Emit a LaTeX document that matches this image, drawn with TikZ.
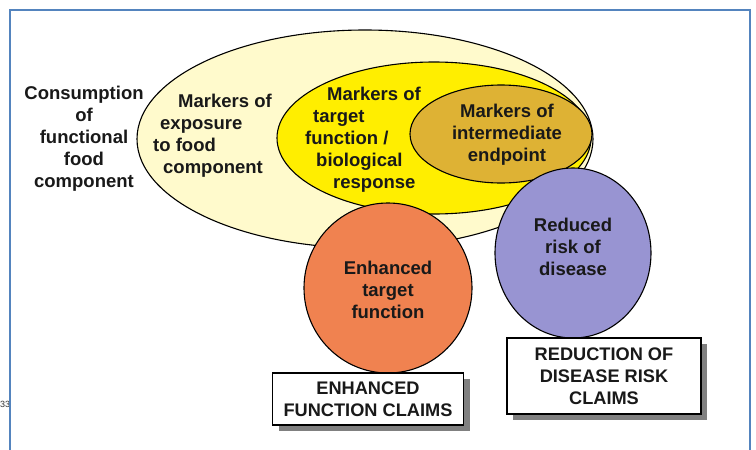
\documentclass[tikz,border=0pt]{standalone}
\usepackage{fontspec}
\setmainfont{Liberation Sans}
\usetikzlibrary{shapes.geometric,shadows}

\definecolor{frameblue}{RGB}{84,132,190}
\definecolor{paleyellow}{RGB}{255,250,204}
\definecolor{brightyellow}{RGB}{255,238,0}
\definecolor{goldish}{RGB}{222,178,52}
\definecolor{salmon}{RGB}{240,130,80}
\definecolor{lavender}{RGB}{152,148,210}

\begin{document}
\begin{tikzpicture}[x=1pt, y=-1pt,
    blob/.style={draw=black, line width=1.1pt, ellipse, inner sep=0pt},
    txt/.style={font=\bfseries\fontsize{18.5}{22}\selectfont, text=black!90, inner sep=0pt},
    claim/.style={draw=black, line width=1.1pt, fill=white, rectangle, align=center,
        font=\bfseries\fontsize{18.2}{22}\selectfont, text=black!90,
        drop shadow={shadow xshift=6pt, shadow yshift=-6pt, fill=black!50, opacity=1}}]

    % Page size and the blue frame (open at the bottom)
    \useasboundingbox[fill=white] (0,0) rectangle (756,450);
    \node[anchor=west, font=\fontsize{9}{11}\selectfont, text=black!80, inner sep=0pt] (pagenum) at (0,404) {33};
    \draw[frameblue, line width=2.5pt] (10,470) -- (10,10) -- (750,10) -- (750,470);

    %% ------
    %% Nested ellipses, all touching on the right side
    %% ----

    % outer: consumption / exposure
    \node[blob, fill=paleyellow, minimum width=456, minimum height=218] (exposure) at (365,139) {};
    % middle: target function
    \node[blob, fill=brightyellow, minimum width=314, minimum height=152] (target) at (434,138) {};
    % inner: intermediate endpoint
    \node[blob, fill=goldish, minimum width=182, minimum height=98] (endpoint) at (501,134) {};

    % outcome circles
    \node[blob, fill=salmon, minimum width=168, minimum height=170] (enhanced) at (388,288) {};
    \node[blob, fill=lavender, minimum width=156, minimum height=170] (reduced) at (573,253) {};

    % texts inside the shapes
    \node[txt, align=center] (intaketext) at (84,139) {Consumption\\of\\functional\\food\\component};
    \node[txt, align=left, anchor=west] (exposuretext) at (153,136)
        {\hspace*{25pt}Markers of\\\hspace*{7pt}exposure\\to food\\\hspace*{10pt}component};
    \node[txt, align=left, anchor=west] (targettext) at (305,140)
        {\hspace*{22pt}Markers of\\\hspace*{8pt}target\\function /\\\hspace*{11pt}biological\\\hspace*{28pt}response};
    \node[txt, align=center] (endpointtext) at (507,135) {Markers of\\intermediate\\endpoint};
    \node[txt, align=center] (enhancedtext) at (388,290) {Enhanced\\target\\function};
    \node[txt, align=center] (reducedtext) at (573,247) {Reduced\\risk of\\disease};

    % claim boxes
    \node[claim, minimum width=191, minimum height=52] (efclaims) at (368,399) {ENHANCED\\FUNCTION CLAIMS};
    \node[claim, minimum width=194, minimum height=76] (rdrclaims) at (604,376) {REDUCTION OF\\DISEASE RISK\\CLAIMS};

\end{tikzpicture}
\end{document}
